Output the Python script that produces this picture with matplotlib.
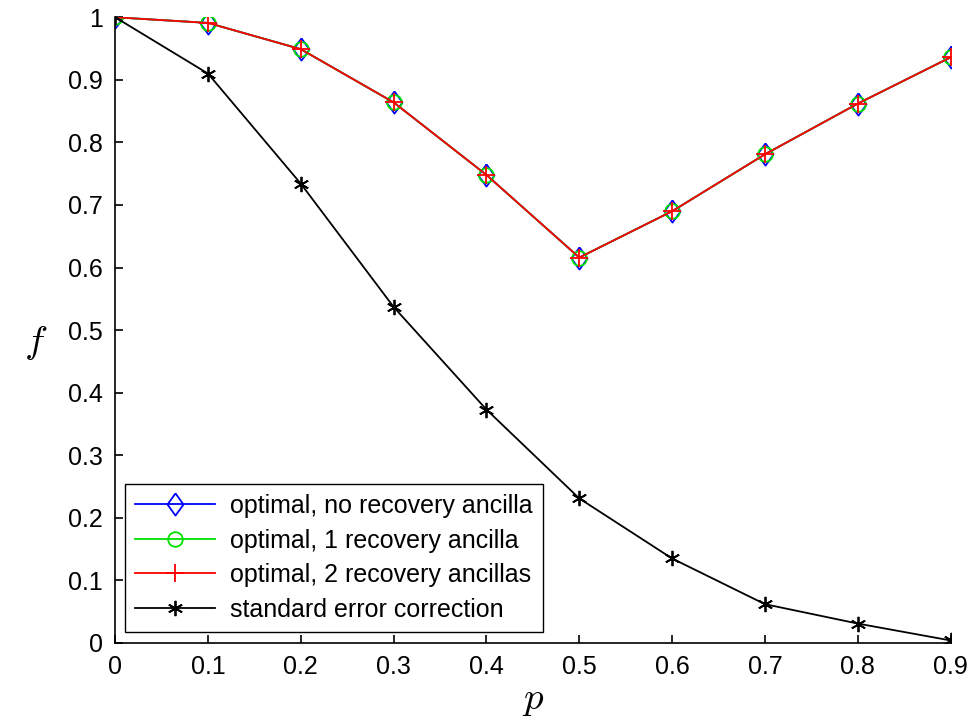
import matplotlib
matplotlib.use("Agg")
import matplotlib.pyplot as plt

p = [0.0, 0.1, 0.2, 0.3, 0.4, 0.5, 0.6, 0.7, 0.8, 0.9]
f_opt0 = [1.0, 0.991, 0.949, 0.864, 0.748, 0.616, 0.690, 0.781, 0.862, 0.936]
f_opt1 = [1.0, 0.991, 0.949, 0.864, 0.748, 0.616, 0.690, 0.781, 0.862, 0.936]
f_opt2 = [1.0, 0.991, 0.949, 0.864, 0.748, 0.616, 0.690, 0.781, 0.862, 0.936]
f_std = [1.0, 0.910, 0.734, 0.537, 0.373, 0.231, 0.135, 0.062, 0.031, 0.004]

plt.rcParams["font.family"] = ["Liberation Sans", "DejaVu Sans"]
plt.rcParams["mathtext.fontset"] = "cm"

# matlab-style diamond, a bit taller than wide
diamond = [(0, 1), (0.72, 0), (0, -1), (-0.72, 0), (0, 1)]

fig = plt.figure(figsize=(9.68, 7.20), dpi=100)
ax = fig.add_axes([0.119, 0.107, 0.863, 0.869])

ax.plot(p, f_opt0, color="blue", lw=1.3, marker=diamond, ms=16, mfc="none",
        mew=1.3, label="optimal, no recovery ancilla")
ax.plot(p, f_opt1, color="#00e000", lw=1.3, marker="o", ms=10.5, mfc="none",
        mew=1.3, label="optimal, 1 recovery ancilla")
ax.plot(p, f_opt2, color="red", lw=1.3, marker="+", ms=13, mew=1.3,
        label="optimal, 2 recovery ancillas")
ax.plot(p, f_std, color="black", lw=1.3, marker=(6, 2, 0), ms=11, mew=1.3,
        label="standard error correction")

ax.set_xlim(0, 0.9)
ax.set_ylim(0, 1)
ax.set_xticks(p)
ax.set_xticklabels(["0", "0.1", "0.2", "0.3", "0.4", "0.5", "0.6", "0.7", "0.8", "0.9"])
ax.set_yticks([0, 0.1, 0.2, 0.3, 0.4, 0.5, 0.6, 0.7, 0.8, 0.9, 1])
ax.set_yticklabels(["0", "0.1", "0.2", "0.3", "0.4", "0.5", "0.6", "0.7", "0.8", "0.9", "1"])
ax.tick_params(direction="in", labelsize=18, length=6, width=1.2, pad=9)
for side in ("top", "right"):
    ax.spines[side].set_visible(False)
for side in ("left", "bottom"):
    ax.spines[side].set_linewidth(1.2)

ax.set_xlabel("$p$", fontsize=28, labelpad=2)
ax.set_ylabel("$f$", fontsize=28, labelpad=24, rotation=0, va="center")
ax.yaxis.set_label_coords(-0.095, 0.48)

leg = ax.legend(loc="lower left", fontsize=18, fancybox=False, edgecolor="black",
                framealpha=1, handlelength=3.2, handletextpad=0.6,
                borderaxespad=0.0, labelspacing=0.42, borderpad=0.4,
                bbox_to_anchor=(0.012, 0.018))
leg.get_frame().set_linewidth(1.0)

fig.savefig("out.png", dpi=100)
